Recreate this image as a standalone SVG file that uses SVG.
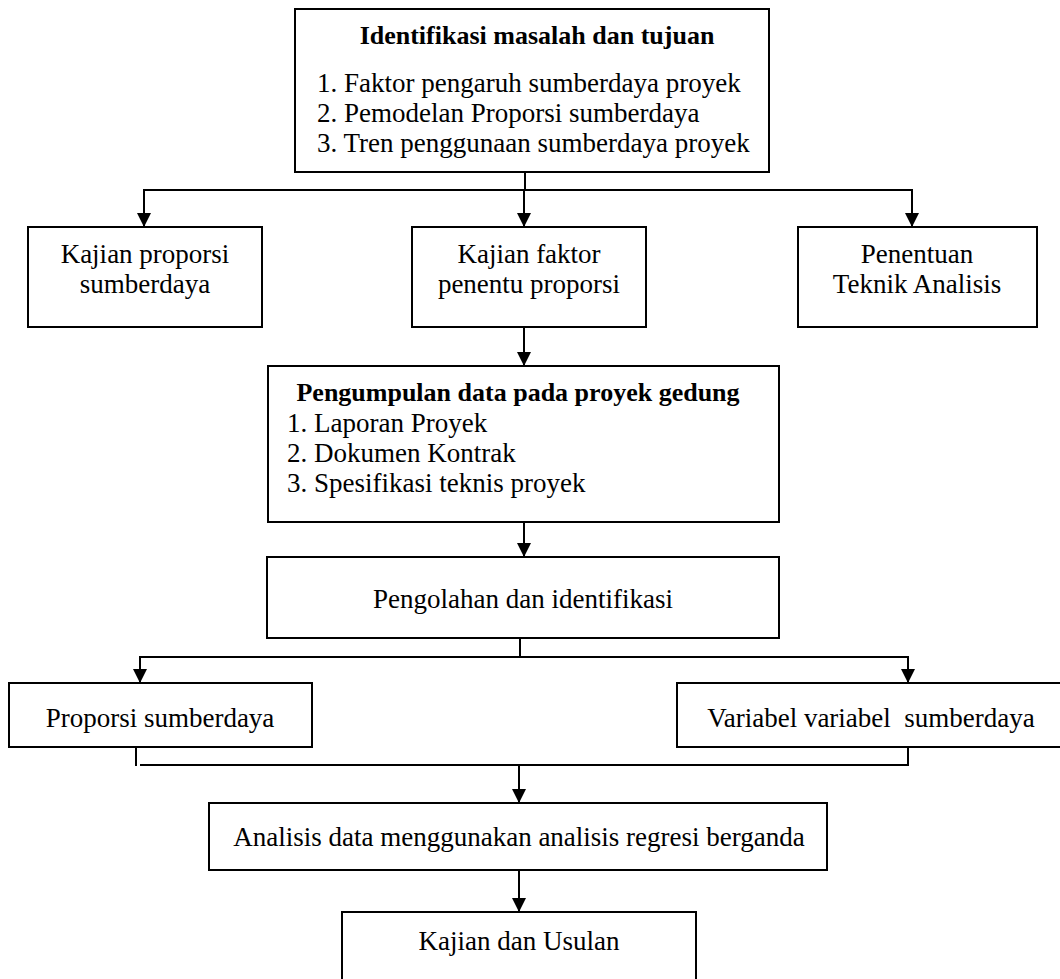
<svg xmlns="http://www.w3.org/2000/svg" width="1060" height="979" viewBox="0 0 1060 979">
<defs>
<marker id="arr" markerUnits="userSpaceOnUse" markerWidth="14" markerHeight="14" refX="14" refY="7" orient="auto">
<path d="M0,0 L14,7 L0,14 z" fill="#000"/>
</marker>
<style>
.box{fill:#fff;stroke:#000;stroke-width:2}
.t{font-family:"Liberation Serif","Times New Roman",serif;font-size:27px;fill:#000}
.b{font-weight:bold;font-size:26px}
.c{text-anchor:middle}
.ln{fill:none;stroke:#000;stroke-width:2}
.ar{fill:none;stroke:#000;stroke-width:2;marker-end:url(#arr)}
</style>
</defs>
<rect width="1060" height="979" fill="#fff"/>
<g id="connectors">
<line class="ln" x1="525" y1="172" x2="525" y2="190"/>
<line class="ln" x1="143" y1="190" x2="913" y2="190"/>
<line class="ar" x1="144" y1="190" x2="144" y2="227"/>
<line class="ar" x1="524" y1="190" x2="524" y2="227"/>
<line class="ar" x1="912" y1="190" x2="912" y2="227"/>
<line class="ar" x1="524" y1="327" x2="524" y2="366"/>
<line class="ar" x1="524" y1="522" x2="524" y2="557"/>
<line class="ln" x1="520" y1="638" x2="520" y2="657"/>
<line class="ln" x1="139" y1="657" x2="909" y2="657"/>
<line class="ar" x1="140" y1="657" x2="140" y2="683"/>
<line class="ar" x1="908" y1="657" x2="908" y2="683"/>
<line class="ln" x1="136" y1="747" x2="136" y2="766"/>
<line class="ln" x1="908" y1="745" x2="908" y2="766"/>
<line class="ln" x1="140" y1="765" x2="909" y2="765"/>
<line class="ar" x1="519" y1="765" x2="519" y2="803"/>
<line class="ar" x1="519" y1="870" x2="519" y2="912"/>
</g>
<g id="n-identifikasi">
<rect class="box" x="295" y="9" width="474" height="163"/>
<text class="t b c" x="537" y="44">Identifikasi masalah dan tujuan</text>
<text class="t" x="317" y="92">1. Faktor pengaruh sumberdaya proyek</text>
<text class="t" x="317" y="122">2. Pemodelan Proporsi sumberdaya</text>
<text class="t" x="317" y="152">3. Tren penggunaan sumberdaya proyek</text>
</g>
<g id="n-kajian-proporsi">
<rect class="box" x="28" y="227" width="234" height="100"/>
<text class="t c" x="145" y="263">Kajian proporsi</text>
<text class="t c" x="145" y="293">sumberdaya</text>
</g>
<g id="n-kajian-faktor">
<rect class="box" x="412" y="227" width="234" height="100"/>
<text class="t c" x="529" y="263">Kajian faktor</text>
<text class="t c" x="529" y="293">penentu proporsi</text>
</g>
<g id="n-penentuan">
<rect class="box" x="798" y="227" width="239" height="100"/>
<text class="t c" x="917" y="263">Penentuan</text>
<text class="t c" x="917" y="293">Teknik Analisis</text>
</g>
<g id="n-pengumpulan">
<rect class="box" x="268" y="366" width="511" height="156"/>
<text class="t b c" x="518" y="401">Pengumpulan data pada proyek gedung</text>
<text class="t" x="287" y="432">1. Laporan Proyek</text>
<text class="t" x="287" y="462">2. Dokumen Kontrak</text>
<text class="t" x="287" y="492">3. Spesifikasi teknis proyek</text>
</g>
<g id="n-pengolahan">
<rect class="box" x="267" y="557" width="512" height="81"/>
<text class="t c" x="523" y="608">Pengolahan dan identifikasi</text>
</g>
<g id="n-proporsi">
<rect class="box" x="9" y="683" width="303" height="64"/>
<text class="t c" x="160" y="727">Proporsi sumberdaya</text>
</g>
<g id="n-variabel">
<rect class="box" x="677" y="683" width="390" height="64"/>
<text class="t c" x="871" y="727" xml:space="preserve">Variabel variabel  sumberdaya</text>
</g>
<g id="n-analisis">
<rect class="box" x="209" y="803" width="618" height="67"/>
<text class="t c" x="519" y="846">Analisis data menggunakan analisis regresi berganda</text>
</g>
<g id="n-kajian-usulan">
<rect class="box" x="342" y="912" width="354" height="80"/>
<text class="t c" x="519" y="950">Kajian dan Usulan</text>
</g>
</svg>
